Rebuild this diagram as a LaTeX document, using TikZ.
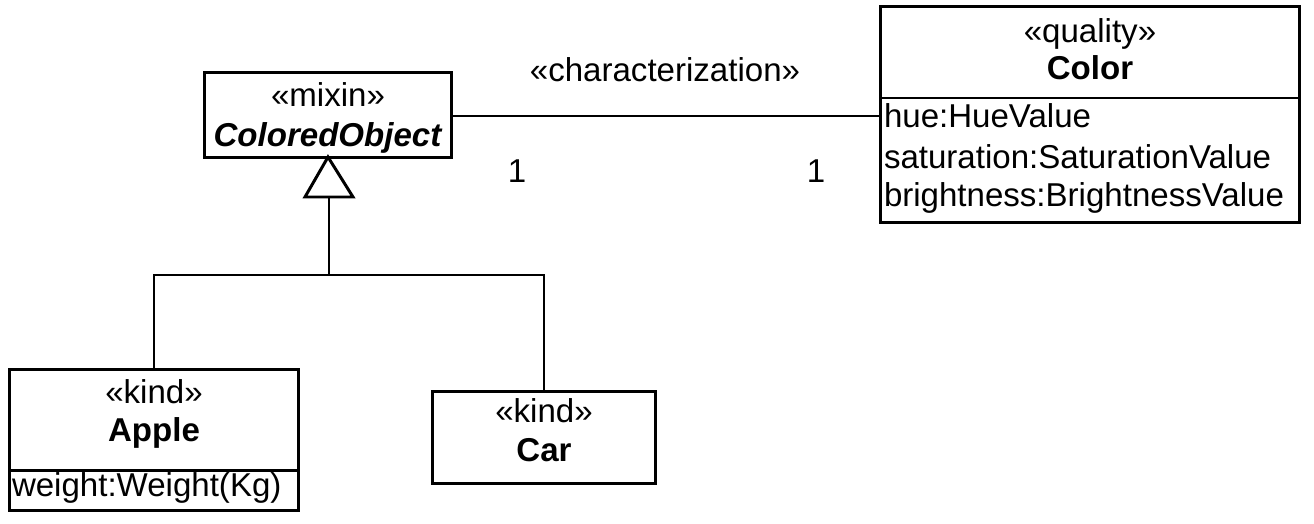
\documentclass[tikz,border=0pt]{standalone}
\usepackage{fontspec}
\setmainfont{Liberation Sans}
\begin{document}
\begin{tikzpicture}[x=0.01cm,y=-0.01cm,
  every node/.style={inner sep=0pt,outer sep=0pt,font=\fontsize{9.4}{11}\selectfont},
  cls/.style={draw,line width=0.85pt,rectangle,fill=white},
  txt/.style={anchor=base},
  attr/.style={anchor=base west},
  conn/.style={line width=0.5pt},
  comp/.style={line width=0.85pt}]
\useasboundingbox (0,0) rectangle (1314,524);
% class boxes
\node[cls,minimum width=2.46cm,minimum height=0.84cm] (co) at (328,115) {};
\node[cls,minimum width=4.18cm,minimum height=2.15cm] (color) at (1090,114.5) {};
\node[cls,minimum width=2.88cm,minimum height=1.40cm] (apple) at (154,440) {};
\node[cls,minimum width=2.22cm,minimum height=0.91cm] (car) at (544,437.5) {};
% compartments
\draw[comp] (color.west |- 0,98) -- (color.east |- 0,98);
\draw[comp] (apple.west |- 0,470) -- (apple.east |- 0,470);
% texts
\node[txt] (co1) at (328,106) {«mixin»};
\node[txt] (co2) at (328,146) {\textbf{\textit{ColoredObject}}};
\node[txt] (cl1) at (1090,42) {«quality»};
\node[txt] (cl2) at (1090,79) {\textbf{Color}};
\node[attr] (cla1) at (884,127) {hue:HueValue};
\node[attr] (cla2) at (884,168) {saturation:SaturationValue};
\node[attr] (cla3) at (884,206) {brightness:BrightnessValue};
\node[txt] (ap1) at (154,403) {«kind»};
\node[txt] (ap2) at (154,441) {\textbf{Apple}};
\node[attr] (apa1) at (12,496) {weight:Weight(Kg)};
\node[txt] (ca1) at (544,422) {«kind»};
\node[txt] (ca2) at (544,461) {\textbf{Car}};
% association
\draw[conn] (co.east |- 0,116) -- (color.west |- 0,116);
\node[txt] (assoc) at (665,81) {«characterization»};
\node[txt] (m1) at (517,182) {1};
\node[txt] (m2) at (816,182) {1};
% generalization
\coordinate (tb) at (329,197);
\coordinate (join) at (329,275);
\draw[comp,line join=miter] (co.south) -- (305,197) -- (353,197) -- cycle;
\draw[conn] (tb) -- (join);
\draw[conn] (join) -| (apple.north);
\draw[conn] (join) -| (car.north);
\end{tikzpicture}
\end{document}
